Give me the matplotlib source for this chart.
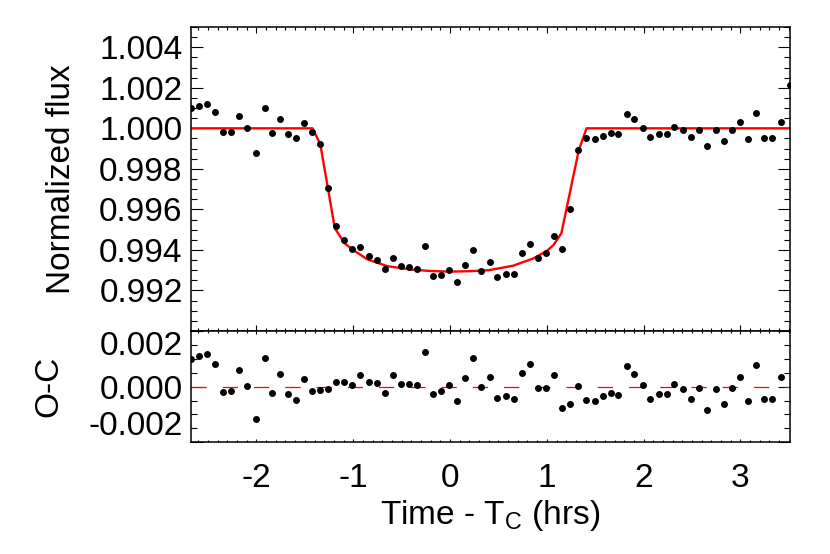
"""
Transit light curve with model and O-C residuals
"""

import numpy as np
import matplotlib
matplotlib.use("Agg")
import matplotlib.pyplot as plt
from matplotlib.ticker import FixedLocator, MultipleLocator, FormatStrFormatter

# observed times (hrs from mid-transit)
time = [-2.676, -2.593, -2.510, -2.428, -2.342, -2.259, -2.176, -2.094, -2.007, -1.915,
        -1.839, -1.760, -1.677, -1.594, -1.512, -1.429, -1.343, -1.257, -1.174, -1.092,
        -1.009, -0.926, -0.840, -0.757, -0.675, -0.592, -0.506, -0.424, -0.341, -0.258,
        -0.176, -0.090, -0.007, 0.076, 0.158, 0.241, 0.324, 0.410, 0.489, 0.575,
        0.658, 0.744, 0.826, 0.909, 0.995, 1.078, 1.160, 1.243, 1.326, 1.408,
        1.495, 1.577, 1.660, 1.739, 1.825, 1.904, 1.990, 2.070, 2.156, 2.242,
        2.314, 2.410, 2.486, 2.572, 2.652, 2.745, 2.827, 2.910, 2.992, 3.075,
        3.161, 3.244, 3.330, 3.416, 3.512]

# normalized flux
flux = [1.00100, 1.00110, 1.00120, 1.00079, 0.99980, 0.99982, 1.00061, 1.00002, 0.99880, 1.00102,
        0.99977, 1.00046, 0.99972, 0.99952, 1.00028, 0.99982, 0.99921, 0.99707, 0.99520, 0.99451,
        0.99403, 0.99415, 0.99370, 0.99351, 0.99305, 0.99359, 0.99323, 0.99316, 0.99308, 0.99421,
        0.99269, 0.99277, 0.99302, 0.99243, 0.99325, 0.99400, 0.99297, 0.99339, 0.99267, 0.99280,
        0.99280, 0.99384, 0.99428, 0.99362, 0.99387, 0.99467, 0.99403, 0.99600, 0.99895, 0.99951,
        0.99948, 0.99964, 0.99975, 0.99970, 1.00072, 1.00046, 1.00003, 0.99956, 0.99974, 0.99972,
        1.00007, 0.99990, 0.99956, 0.99993, 0.99915, 0.99990, 0.99936, 0.99993, 1.00033, 0.99946,
        1.00077, 0.99954, 0.99954, 1.00033, 1.00216]

# residuals (observed - model)
resid = [0.00101, 0.00111, 0.00119, 0.00080, -0.00019, -0.00017, 0.00061, 0.00002, -0.00118, 0.00102,
         -0.00022, 0.00047, -0.00028, -0.00047, 0.00029, -0.00017, -0.00012, -0.00010, 0.00016, 0.00018,
         0.00007, 0.00043, 0.00017, 0.00012, -0.00022, 0.00041, 0.00010, 0.00010, 0.00007, 0.00124,
         -0.00026, -0.00017, 0.00007, -0.00050, 0.00030, 0.00102, -0.00002, 0.00036, -0.00041, -0.00035,
         -0.00043, 0.00049, 0.00080, -0.00006, -0.00005, 0.00041, -0.00078, -0.00064, 0.00001, -0.00048,
         -0.00052, -0.00035, -0.00024, -0.00030, 0.00073, 0.00046, 0.00005, -0.00043, -0.00026, -0.00026,
         0.00010, -0.00008, -0.00043, -0.00005, -0.00085, -0.00008, -0.00064, -0.00005, 0.00035, -0.00052,
         0.00079, -0.00046, -0.00046, 0.00035, 0.00216]

# transit model curve
model_t = [-2.68, -1.42, -1.34, -1.19, -1.09, -1.00, -0.86, -0.65, -0.40, -0.20, 0.00,
           0.20, 0.40, 0.65, 0.86, 1.00, 1.07, 1.15, 1.33, 1.41, 3.52]
model_f = [1.00000, 1.00000, 0.99921, 0.99507, 0.99433, 0.99400, 0.99355, 0.99320, 0.99303, 0.99296, 0.99293,
           0.99295, 0.99300, 0.99322, 0.99358, 0.99395, 0.99425, 0.99482, 0.99892, 1.00000, 1.00000]

flux_ticks = [0.992, 0.994, 0.996, 0.998, 1.000, 1.002, 1.004]
oc_ticks = [-0.002, 0.000, 0.002]
time_ticks = [-2, -1, 0, 1, 2, 3]

plt.rcParams['font.family'] = ['Liberation Sans', 'DejaVu Sans']
plt.rcParams['mathtext.fontset'] = 'custom'
plt.rcParams['mathtext.rm'] = 'Liberation Sans'
plt.rcParams['axes.unicode_minus'] = False
plt.rcParams['lines.scale_dashes'] = False
plt.rcParams['font.size'] = 24

fig = plt.figure(figsize=(8.3, 5.54), dpi=100)
ax1 = fig.add_axes([0.2301, 0.4025, 0.7217, 0.5488])
ax2 = fig.add_axes([0.2301, 0.2016, 0.7217, 0.2009])

xlim = (-2.676, 3.512)

# top panel: light curve
ax1.plot(model_t, model_f, color='red', lw=1.7, zorder=2)
ax1.plot(time, flux, 'o', color='black', ms=5, mew=0, zorder=3)
ax1.set_xlim(*xlim)
ax1.set_ylim(0.990, 1.005)
ax1.yaxis.set_major_locator(FixedLocator(flux_ticks))
ax1.yaxis.set_major_formatter(FormatStrFormatter('%.3f'))
ax1.yaxis.set_minor_locator(MultipleLocator(0.0005))
ax1.xaxis.set_major_locator(FixedLocator(time_ticks))
ax1.xaxis.set_minor_locator(MultipleLocator(0.1))
ax1.tick_params(axis='x', which='both', labelbottom=False)
ax1.tick_params(axis='x', which='major', length=4.3)
ax1.tick_params(axis='x', which='minor', length=2.2)
ax1.tick_params(axis='y', which='major', length=8.6, pad=6)
ax1.tick_params(axis='y', which='minor', length=4.3)
ax1.set_ylabel("Normalized flux", labelpad=16)

# bottom panel: residuals
ax2.axhline(0.0, color='red', lw=0.9, linestyle=(0, (11, 11.5)), zorder=2)
ax2.plot(time, resid, 'o', color='black', ms=5, mew=0, zorder=3)
ax2.set_xlim(*xlim)
ax2.set_ylim(-0.002, 0.002)
ax2.yaxis.set_major_locator(FixedLocator(oc_ticks))
ax2.yaxis.set_major_formatter(FormatStrFormatter('%.3f'))
ax2.yaxis.set_minor_locator(MultipleLocator(0.0005))
ax2.xaxis.set_major_locator(FixedLocator(time_ticks))
ax2.xaxis.set_minor_locator(MultipleLocator(0.1))
ax2.tick_params(axis='x', which='major', length=2.2, pad=15)
ax2.tick_params(axis='x', which='minor', length=1.1)
ax2.tick_params(axis='y', which='major', length=8.6, pad=6)
ax2.tick_params(axis='y', which='minor', length=4.3)
ax2.set_ylabel("O-C", labelpad=17)
ax2.set_xlabel("Time - T$_{\\mathrm{C}}$ (hrs)", labelpad=3)

for ax in (ax1, ax2):
    ax.tick_params(which='both', direction='in', top=True, right=True, width=0.8)
    for sp in ax.spines.values():
        sp.set_linewidth(1.1)

# keep the edge labels of the residual panel inside the frame
labels = ax2.get_yticklabels()
labels[0].set_va('bottom')
labels[-1].set_va('top')

fig.savefig("out.png", dpi=100)
